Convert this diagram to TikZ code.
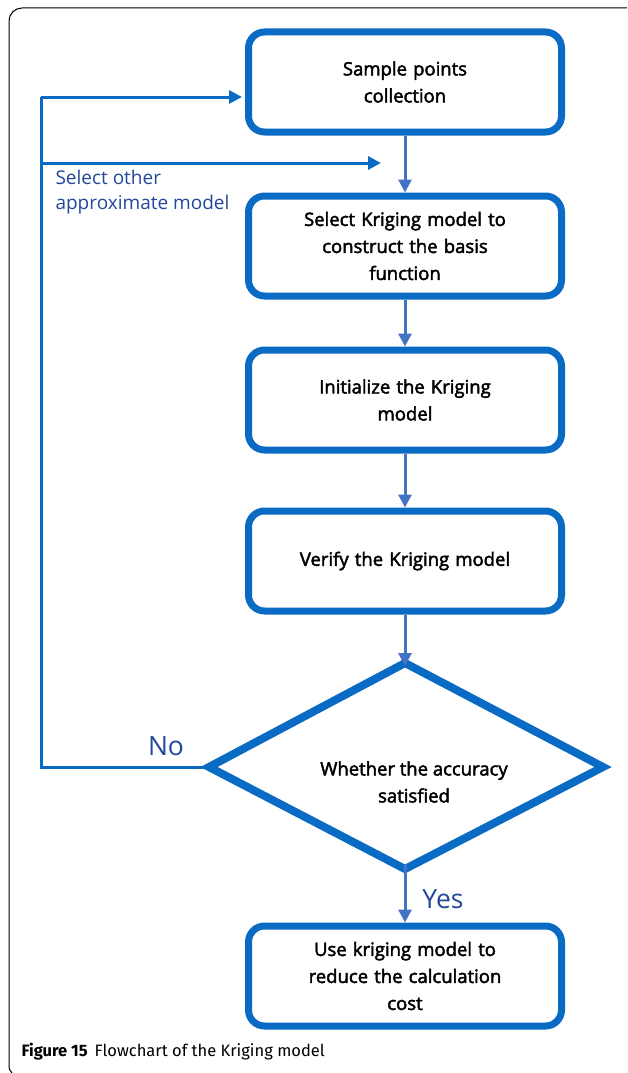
\documentclass[tikz,border=0pt]{standalone}
\usepackage{fontspec}
\setmainfont{Open Sans}
\newfontfamily\boxfont[FakeBold=2.4]{Open Sans}
\newfontfamily\capfont{Fira Sans}
\usetikzlibrary{arrows.meta,shapes.geometric}
\definecolor{boxblue}{HTML}{0A6BC4}
\definecolor{arrblue}{HTML}{4472C4}
\definecolor{lblblue}{HTML}{23479A}
\tikzset{
  stepbox/.style={draw=boxblue, line width=7pt, rounded corners=16pt, fill=white,
    minimum width=313pt, minimum height=100pt, align=center, text width=290pt,
    font=\boxfont\fontsize{18.5}{27}\selectfont},
  flow/.style={draw=arrblue, line width=3pt, -{Triangle[width=13pt,length=13pt]}},
  fb/.style={draw=boxblue, line width=3pt},
  fbarrow/.style={draw=boxblue, line width=3pt, -{Triangle[width=13pt,length=13pt]}},
  lbl/.style={text=lblblue, font=\fontsize{19}{25}\selectfont, align=left},
  yn/.style={text=lblblue, font=\fontsize{26.5}{28}\selectfont}
}
\begin{document}
\begin{tikzpicture}[x=1pt,y=-1pt]
\useasboundingbox (0,0) rectangle (627,1073);
% outer frame
\draw[line width=1pt, rounded corners=13pt] (627,8) -- (9,8) -- (9,1066);
\draw[line width=1pt] (9,1066) .. controls (9,1069) .. (12,1073);
% boxes
\node[stepbox] (b1) at (405,82) {Sample points\\collection};
\node[stepbox] (b2) at (405,246) {Select Kriging model to\\construct the basis\\function};
\node[stepbox] (b3) at (405,400) {Initialize the Kriging\\model};
\node[stepbox] (b4) at (405,561) {Verify the Kriging model};
\node[stepbox] (b5) at (405,976) {Use kriging model to\\reduce the calculation\\cost};
% diamond drawn directly
\coordinate (dt) at (405,663);
\coordinate (dl) at (209,767);
\coordinate (dr) at (603,767);
\coordinate (db) at (405,869);
\draw[boxblue, line width=8pt, line join=miter, fill=white] (dt) -- (dr) -- (db) -- (dl) -- cycle;
\node[font=\boxfont\fontsize{18.5}{27}\selectfont, align=center] (dtext) at (414,782) {Whether the accuracy\\satisfied};
% flow arrows
\draw[flow] (b1.south) -- (b2.north);
\draw[flow] (b2.south) -- (b3.north);
\draw[flow] (b3.south) -- (b4.north);
\draw[flow] (b4.south) -- ([yshift=-3pt]dt);
\draw[flow] ([yshift=4pt]db) -- (b5.north);
% feedback
\coordinate (c1) at (41,767);
\coordinate (c2) at (41,97);
\coordinate (c3) at (41,163);
\coordinate (c4) at (381,163);
\draw[fb, line join=miter] ([xshift=-3pt]dl) -- (c1) -- (c2);
\draw[fbarrow] (c2) -- ([xshift=-3pt]b1.west |- c2);
\draw[fbarrow] (c3) -- (c4);
% labels
\node[lbl, anchor=north west] (sel) at (52,167) {Select other\\approximate model};
\node[yn] (no) at (166,746) {No};
\node[yn] (yes) at (443,899) {Yes};
% caption
\node[anchor=west, font=\capfont\fontsize{16.5}{18}\selectfont] (cap) at (18,1052) {\textbf{Figure 15}\hspace{7pt}Flowchart of the Kriging model};
\end{tikzpicture}
\end{document}
